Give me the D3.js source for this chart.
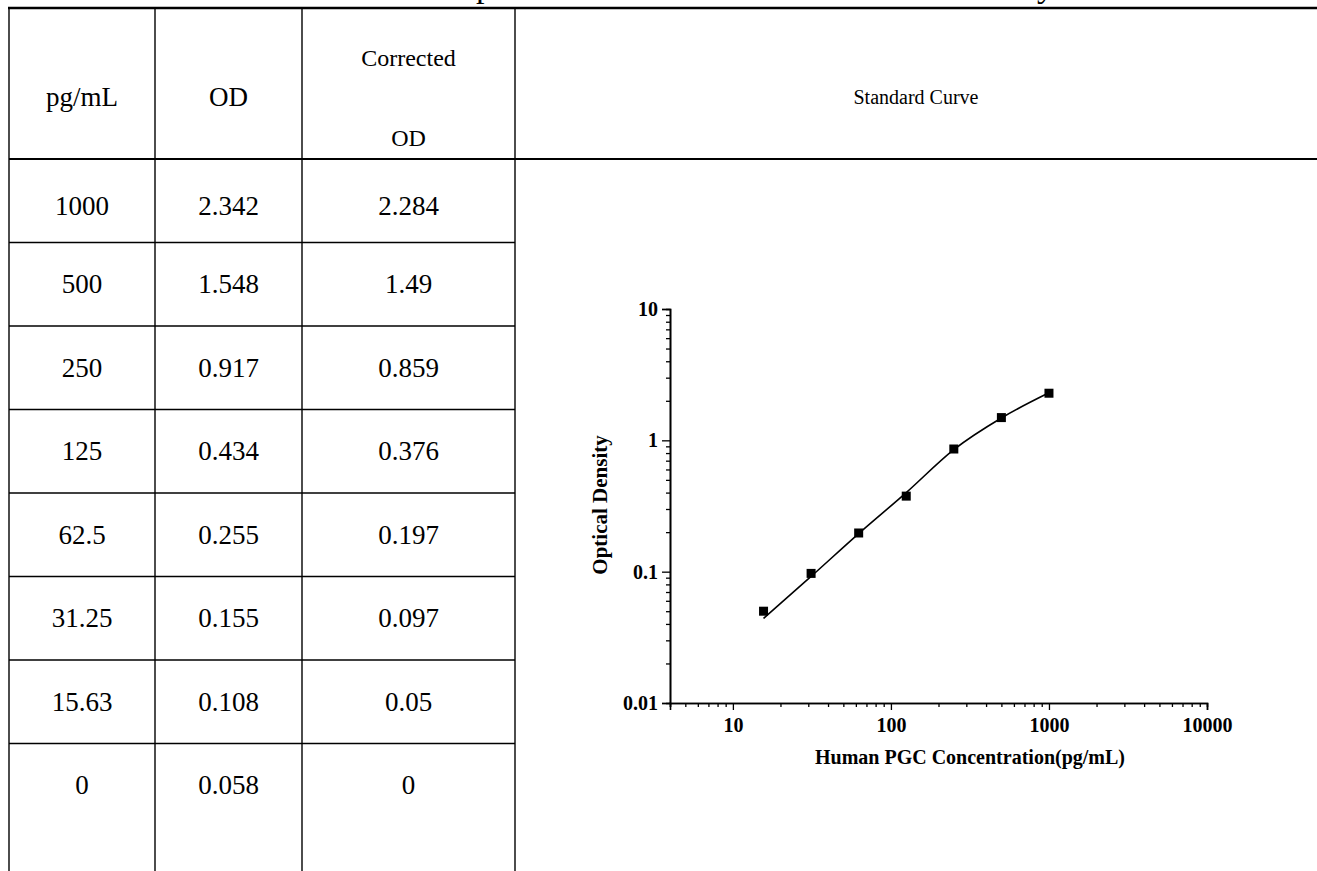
<!DOCTYPE html>
<html>
<head>
<meta charset="utf-8">
<script src="https://cdn.jsdelivr.net/npm/d3@7/dist/d3.min.js"></script>
<style>
  html, body { margin: 0; padding: 0; background: #fff; }
  svg { display: block; }
</style>
</head>
<body>
<svg id="chart" width="1317" height="871"></svg>
<script>
// ---------- data ----------
const titleText = "Example of Human PGC Standard Curve Assay";
const headers = ["pg/mL", "OD", "Corrected|OD", "Standard Curve"];
const concentrations = ["1000", "500", "250", "125", "62.5", "31.25", "15.63", "0"];
const odValues = ["2.342", "1.548", "0.917", "0.434", "0.255", "0.155", "0.108", "0.058"];
const correctedOD = ["2.284", "1.49", "0.859", "0.376", "0.197", "0.097", "0.05", "0"];
// fitted curve
const fitConc = [15.63, 31.25, 62.5, 125, 250, 500, 1000];
const fitOD = [0.044, 0.092, 0.195, 0.40, 0.85, 1.48, 2.30];
const yTickValues = [0.01, 0.1, 1, 10];
const yTickLabels = ["0.01", "0.1", "1", "10"];
const xTickValues = [10, 100, 1000, 10000];
const xTickLabels = ["10", "100", "1000", "10000"];
const xTitle = "Human PGC Concentration(pg/mL)";
const yTitle = "Optical Density";

// ---------- setup ----------
const svg = d3.select("#chart");
const W = 1317, H = 871;
svg.append("rect").attr("width", W).attr("height", H).attr("fill", "#fff");
const serif = "'Liberation Serif', 'Times New Roman', serif";

// title (clipped at the top edge, as in the reference)
const t = svg.append("text")
  .attr("font-family", serif).attr("font-size", 34)
  .attr("y", -3).attr("fill", "#000").text(titleText);
try {
  const node = t.node();
  const ip = titleText.indexOf("p");
  const iy = titleText.lastIndexOf("y");
  const d0 = node.getStartPositionOfChar(iy).x - node.getStartPositionOfChar(ip).x;
  const fs = 34 * (561 / d0);
  t.attr("font-size", fs);
  const px = node.getStartPositionOfChar(ip).x;
  t.attr("x", 476 - px);
} catch (e) { t.attr("x", 380); }

// ---------- table ----------
const colEdges = [9, 155, 302, 515];
const headerTop = 8, headerBottom = 159, rowH = 83.5;
const rowScale = d3.scaleBand().domain(concentrations)
  .range([headerBottom, headerBottom + rowH * concentrations.length]);

const lines = svg.append("g").attr("stroke", "#000").attr("stroke-width", 1.4);
lines.append("line").attr("x1", colEdges[0] - 1).attr("x2", W).attr("y1", headerTop).attr("y2", headerTop)
  .attr("stroke-width", 2.6);
lines.append("line").attr("x1", colEdges[0]).attr("x2", W).attr("y1", headerBottom).attr("y2", headerBottom)
  .attr("stroke-width", 1.8);
colEdges.forEach(x => lines.append("line").attr("x1", x).attr("x2", x).attr("y1", headerTop).attr("y2", H));
concentrations.slice(0, -1).forEach(c => {
  const y = rowScale(c) + rowScale.bandwidth();
  lines.append("line").attr("x1", colEdges[0]).attr("x2", colEdges[3]).attr("y1", y).attr("y2", y);
});

const colCenters = [0, 1, 2].map(i => (colEdges[i] + colEdges[i + 1]) / 2);
const cellFont = 27;
const hdr = svg.append("g").attr("font-family", serif).attr("fill", "#000").attr("text-anchor", "middle");
hdr.append("text").attr("x", colCenters[0]).attr("y", 106).attr("font-size", cellFont).text(headers[0]);
hdr.append("text").attr("x", colCenters[1]).attr("y", 106).attr("font-size", cellFont).text(headers[1]);
const cParts = headers[2].split("|");
hdr.append("text").attr("x", colCenters[2]).attr("y", 66).attr("font-size", 24).text(cParts[0]);
hdr.append("text").attr("x", colCenters[2]).attr("y", 146).attr("font-size", 24).text(cParts[1]);
hdr.append("text").attr("x", (colEdges[3] + W) / 2).attr("y", 104).attr("font-size", 20).text(headers[3]);

const body = svg.append("g").attr("font-family", serif).attr("fill", "#000")
  .attr("text-anchor", "middle").attr("font-size", cellFont);
[concentrations, odValues, correctedOD].forEach((col, ci) => {
  body.selectAll(null).data(col).join("text")
    .attr("x", colCenters[ci])
    .attr("y", (d, i) => rowScale(concentrations[i]) + rowScale.bandwidth() / 2 + 9 + (i === 0 ? 5 : 0))
    .text(d => d);
});

// ---------- chart ----------
const x = d3.scaleLog().domain([4, 10000]).range([670, 1207]);
const y = d3.scaleLog().domain([0.01, 10]).range([703, 309]);

function minorTicks(lo, hi) {
  const out = [];
  for (let p = lo; p < hi; p++) for (let k = 1; k <= 9; k++) out.push(k * Math.pow(10, p));
  return out;
}
const yMinor = minorTicks(-2, 1).filter(v => !yTickValues.includes(v));
const xMinor = minorTicks(0, 4).filter(v => v >= 4 && !xTickValues.includes(v));

const gy = svg.append("g").attr("transform", "translate(670,0)");
gy.call(d3.axisLeft(y).tickValues(yMinor).tickSize(4).tickFormat(""));
gy.call(g => g.append("g").call(d3.axisLeft(y).tickValues(yTickValues).tickSize(8).tickPadding(4)
  .tickFormat((d, i) => yTickLabels[i])));
gy.selectAll("path.domain").attr("stroke", "#000").attr("stroke-width", 1.6);
gy.selectAll("line").attr("stroke", "#000").attr("stroke-width", 1.3);
gy.selectAll("text").attr("font-family", serif).attr("font-weight", "bold").attr("font-size", 20).attr("fill", "#000");

const gx = svg.append("g").attr("transform", "translate(0,703)");
gx.call(d3.axisBottom(x).tickValues(xMinor).tickSize(4).tickFormat(""));
gx.call(g => g.append("g").call(d3.axisBottom(x).tickValues(xTickValues).tickSize(7).tickPadding(8)
  .tickFormat((d, i) => xTickLabels[i])));
gx.selectAll("path.domain").attr("stroke", "#000").attr("stroke-width", 1.6);
gx.selectAll("line").attr("stroke", "#000").attr("stroke-width", 1.3);
gx.selectAll("text").attr("font-family", serif).attr("font-weight", "bold").attr("font-size", 20).attr("fill", "#000");

svg.append("text").attr("transform", "translate(607,505) rotate(-90)")
  .attr("text-anchor", "middle").attr("font-family", serif).attr("font-weight", "bold")
  .attr("font-size", 21).attr("fill", "#000").text(yTitle);
svg.append("text").attr("x", 970).attr("y", 764)
  .attr("text-anchor", "middle").attr("font-family", serif).attr("font-weight", "bold")
  .attr("font-size", 20).attr("fill", "#000").text(xTitle);

// fitted curve
const fit = fitConc.map((c, i) => [c, fitOD[i]]);
svg.append("path").datum(fit)
  .attr("d", d3.line().x(d => x(d[0])).y(d => y(d[1])).curve(d3.curveMonotoneX))
  .attr("fill", "none").attr("stroke", "#000").attr("stroke-width", 1.6);

// points
const pts = concentrations.map((c, i) => [+c, +correctedOD[i]]).filter(d => d[0] > 0 && d[1] > 0);
const sq = 9;
svg.append("g").selectAll("rect").data(pts).join("rect")
  .attr("x", d => x(d[0]) - sq / 2).attr("y", d => y(d[1]) - sq / 2)
  .attr("width", sq).attr("height", sq).attr("fill", "#000");
</script>
</body>
</html>
